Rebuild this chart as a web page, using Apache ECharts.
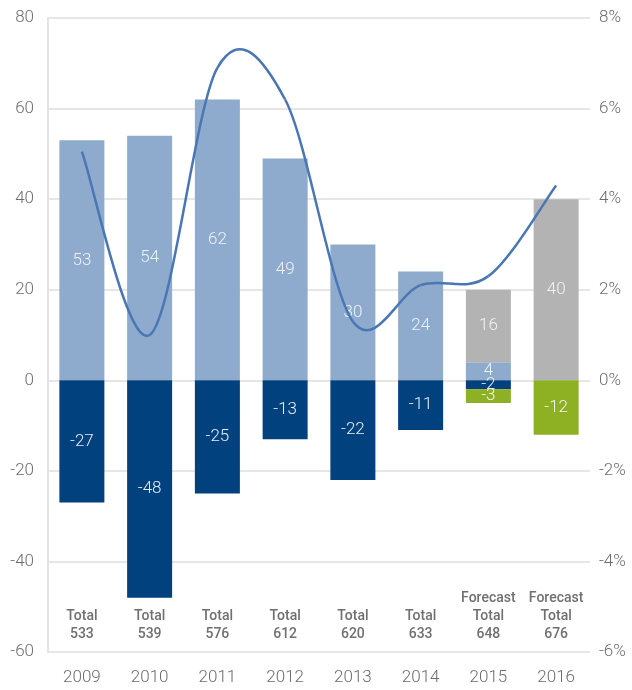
<!DOCTYPE html>
<html>
<head>
<meta charset="utf-8">
<script src="https://cdn.jsdelivr.net/npm/echarts@6/dist/echarts.min.js"></script>
<style>
  html, body { margin: 0; padding: 0; background: #fff; }
  #chart { width: 632px; height: 690px; }
</style>
</head>
<body>
<div id="chart"></div>
<script>
const years = ['2009', '2010', '2011', '2012', '2013', '2014', '2015', '2016']
const totals = ['Total\n533', 'Total\n539', 'Total\n576', 'Total\n612', 'Total\n620', 'Total\n633', 'Forecast\nTotal\n648', 'Forecast\nTotal\n676']
const gains = [53, 54, 62, 49, 30, 24, 4, '-']
const forecastGains = ['-', '-', '-', '-', '-', '-', 16, 40]
const losses = [-27, -48, -25, -13, -22, -11, -2, '-']
const forecastLosses = ['-', '-', '-', '-', '-', '-', -3, -12]
const growthRate = [5.05, 1.0, 6.9, 6.2, 1.3, 2.1, 2.3, 4.3]

const font = 'Roboto, "Open Sans", sans-serif'
const tickColor = '#6d6d6d'

function barSeries(name, data, color, labelColor) {
  return {
    name: name,
    type: 'bar',
    stack: 'all',
    barWidth: 45,
    data: data,
    itemStyle: { color: color },
    label: {
      show: true,
      position: 'inside',
      color: labelColor,
      fontFamily: font,
      fontWeight: 300,
      fontSize: 17,
      formatter: p => p.value
    }
  }
}

// smooth curve through the points, one bezier piece per segment (catmull-rom style)
function renderCurve(params, api) {
  const i = params.dataIndex
  const n = growthRate.length
  if (i >= n - 1) return null
  const pt = k => {
    const j = Math.max(0, Math.min(n - 1, k))
    return api.coord([j, growthRate[j]])
  }
  const p0 = pt(i - 1), p1 = pt(i), p2 = pt(i + 1), p3 = pt(i + 2)
  return {
    type: 'bezierCurve',
    shape: {
      x1: p1[0], y1: p1[1],
      x2: p2[0], y2: p2[1],
      cpx1: p1[0] + (p2[0] - p0[0]) / 6, cpy1: p1[1] + (p2[1] - p0[1]) / 6,
      cpx2: p2[0] - (p3[0] - p1[0]) / 6, cpy2: p2[1] - (p3[1] - p1[1]) / 6
    },
    style: { stroke: '#4a77b4', lineWidth: 2.5, fill: null }
  }
}

const chart = echarts.init(document.getElementById('chart'))
chart.setOption({
  animation: false,
  textStyle: { fontFamily: font },
  grid: { left: 48, right: 42, top: 18, bottom: 38 },
  xAxis: [
    {
      type: 'category',
      data: years,
      axisLine: { show: false },
      axisTick: { show: false },
      axisLabel: { color: tickColor, fontSize: 17, fontWeight: 300, margin: 17, fontFamily: font }
    },
    {
      type: 'category',
      data: totals,
      position: 'bottom',
      axisLine: { show: false },
      axisTick: { show: false },
      axisLabel: {
        interval: 0,
        inside: true,
        margin: 9,
        color: '#707070',
        fontSize: 14,
        fontWeight: 500,
        lineHeight: 18,
        fontFamily: font
      }
    }
  ],
  yAxis: [
    {
      type: 'value',
      min: -60,
      max: 80,
      interval: 20,
      axisLine: { show: true, lineStyle: { color: '#e3e3e3', width: 2 } },
      axisTick: { show: false },
      splitLine: { lineStyle: { color: '#e6e6e6', width: 2 } },
      axisLabel: { color: tickColor, fontSize: 17, fontWeight: 300, margin: 14, fontFamily: font }
    },
    {
      type: 'value',
      min: -6,
      max: 8,
      interval: 2,
      axisLine: { show: false },
      axisTick: { show: false },
      splitLine: { show: false },
      axisLabel: { color: tickColor, fontSize: 17, fontWeight: 300, margin: 9, formatter: '{value}%', fontFamily: font }
    }
  ],
  series: [
    barSeries('gains', gains, '#8eabcd', '#eef2f8'),
    barSeries('forecastGains', forecastGains, '#b3b3b3', '#f2f2f2'),
    barSeries('losses', losses, '#00417e', '#e8eef5'),
    barSeries('forecastLosses', forecastLosses, '#8db122', '#f2f6e6'),
    {
      name: 'growth',
      type: 'custom',
      yAxisIndex: 1,
      data: growthRate.map((v, i) => [i, v]),
      encode: { x: 0, y: 1 },
      renderItem: renderCurve,
      z: 5
    }
  ]
})
</script>
</body>
</html>
